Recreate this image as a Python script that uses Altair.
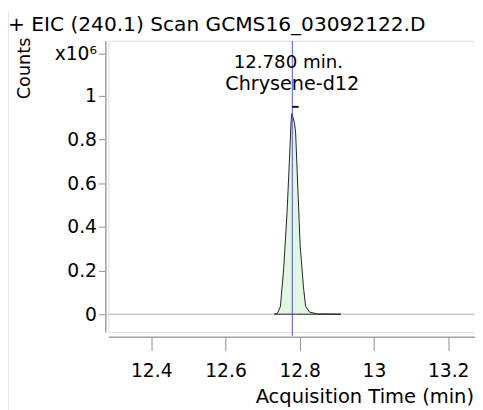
import altair as alt
import pandas as pd

# Peak trace (acquisition time in min, counts in units of 10^6)
time_min = [12.732, 12.740, 12.748, 12.757, 12.766, 12.772, 12.777, 12.779, 12.786,
            12.789, 12.794, 12.801, 12.810, 12.816, 12.827, 12.849, 12.911]
counts_e6 = [0, 0.004, 0.035, 0.215, 0.47, 0.696, 0.89, 0.92, 0.875,
             0.83, 0.62, 0.32, 0.125, 0.035, 0.009, 0.001, 0]

x_ticks = [12.4, 12.6, 12.8, 13.0, 13.2]
y_ticks = [0, 0.2, 0.4, 0.6, 0.8, 1.0, 1.195]

peak_rt = 12.780
peak_name = "Chrysene-d12"
title_text = "+ EIC (240.1) Scan GCMS16_03092122.D"

FONT = "DejaVu Sans"
XDOM = [12.2842, 13.2723]
YDOM = [-0.0811, 1.2523]

df = pd.DataFrame({"t": time_min, "c": counts_e6})
xs = alt.Scale(domain=XDOM, nice=False, zero=False)
ys = alt.Scale(domain=YDOM, nice=False, zero=False)

xaxis = alt.Axis(values=x_ticks, labelExpr="format(datum.value, '~g')", title=None,
                 offset=5, tickSize=14, labelPadding=11, labelFontSize=19, labelFont=FONT,
                 labelColor="#000", domainColor="#a0a0a0", tickColor="#a0a0a0",
                 domainWidth=1.5, tickWidth=1.2, grid=False, labelFlush=False)
yaxis = alt.Axis(values=y_ticks,
                 labelExpr="datum.value > 1.1 ? 'x10\u2076' : format(datum.value, '~g')",
                 title=None, offset=3, tickSize=7, labelPadding=2, labelFontSize=19,
                 labelFont=FONT, labelColor="#000", domainColor="#a0a0a0",
                 tickColor="#a0a0a0", domainWidth=1.5, tickWidth=1.2, grid=False)

zero = alt.Chart(pd.DataFrame({"y": [0]})).mark_rule(color="#b4b4b4", strokeWidth=1).encode(
    y=alt.Y("y:Q", scale=ys, axis=yaxis))

area = alt.Chart(df).mark_area(fill="#e2f7e2", stroke="#222222", strokeWidth=1).encode(
    x=alt.X("t:Q", scale=xs, axis=xaxis),
    y=alt.Y("c:Q", scale=ys, axis=yaxis),
)

rt_df = pd.DataFrame({"t": [peak_rt], "c": [0.95], "t2": [peak_rt + 0.017]})
vline = alt.Chart(rt_df).mark_rule(color="#4f4fe0", strokeWidth=1).encode(
    x=alt.X("t:Q", scale=xs), y=alt.value(0), y2=alt.value(300))
dash = alt.Chart(rt_df).mark_rule(color="#111", strokeWidth=2).encode(
    x=alt.X("t:Q", scale=xs), x2="t2:Q", y=alt.Y("c:Q", scale=ys))

lab1 = alt.Chart(rt_df).mark_text(font=FONT, fontSize=18.5, align="center",
                                  baseline="alphabetic", color="#000", dx=-4).encode(
    x=alt.X("t:Q", scale=xs), y=alt.value(28), text=alt.value(f"{peak_rt:.3f} min."))
lab2 = alt.Chart(rt_df).mark_text(font=FONT, fontSize=19.5, align="center",
                                  baseline="alphabetic", color="#000").encode(
    x=alt.X("t:Q", scale=xs), y=alt.value(50), text=alt.value(peak_name))

one = pd.DataFrame({"a": [0]})
title = alt.Chart(one).mark_text(font=FONT, fontSize=20.5, align="left",
                                 baseline="alphabetic", color="#000").encode(
    x=alt.value(-102), y=alt.value(-10), text=alt.value(title_text))
ytitle = alt.Chart(one).mark_text(font=FONT, fontSize=18, align="center",
                                  baseline="middle", angle=270, color="#000").encode(
    x=alt.value(-84.5), y=alt.value(28), text=alt.value("Counts"))
xtitle = alt.Chart(one).mark_text(font=FONT, fontSize=19.8, align="right",
                                  baseline="alphabetic", color="#000").encode(
    x=alt.value(372), y=alt.value(368), text=alt.value("Acquisition Time (min)"))
frame = alt.Chart(one).mark_rule(color="#e6e6e6", strokeWidth=1).encode(
    x=alt.value(-101.5), y=alt.value(-30), y2=alt.value(400))

chart = alt.layer(frame, zero, area, vline, dash, lab1, lab2, title, ytitle, xtitle).properties(
    width=373, height=296,
    autosize=alt.AutoSizeParams(type="none"),
    padding={"left": 102, "top": 30, "right": 0, "bottom": 76},
).configure_view(stroke=None).configure(background="white")

chart.save("out.html", embed_options={"renderer": "svg", "actions": False})
